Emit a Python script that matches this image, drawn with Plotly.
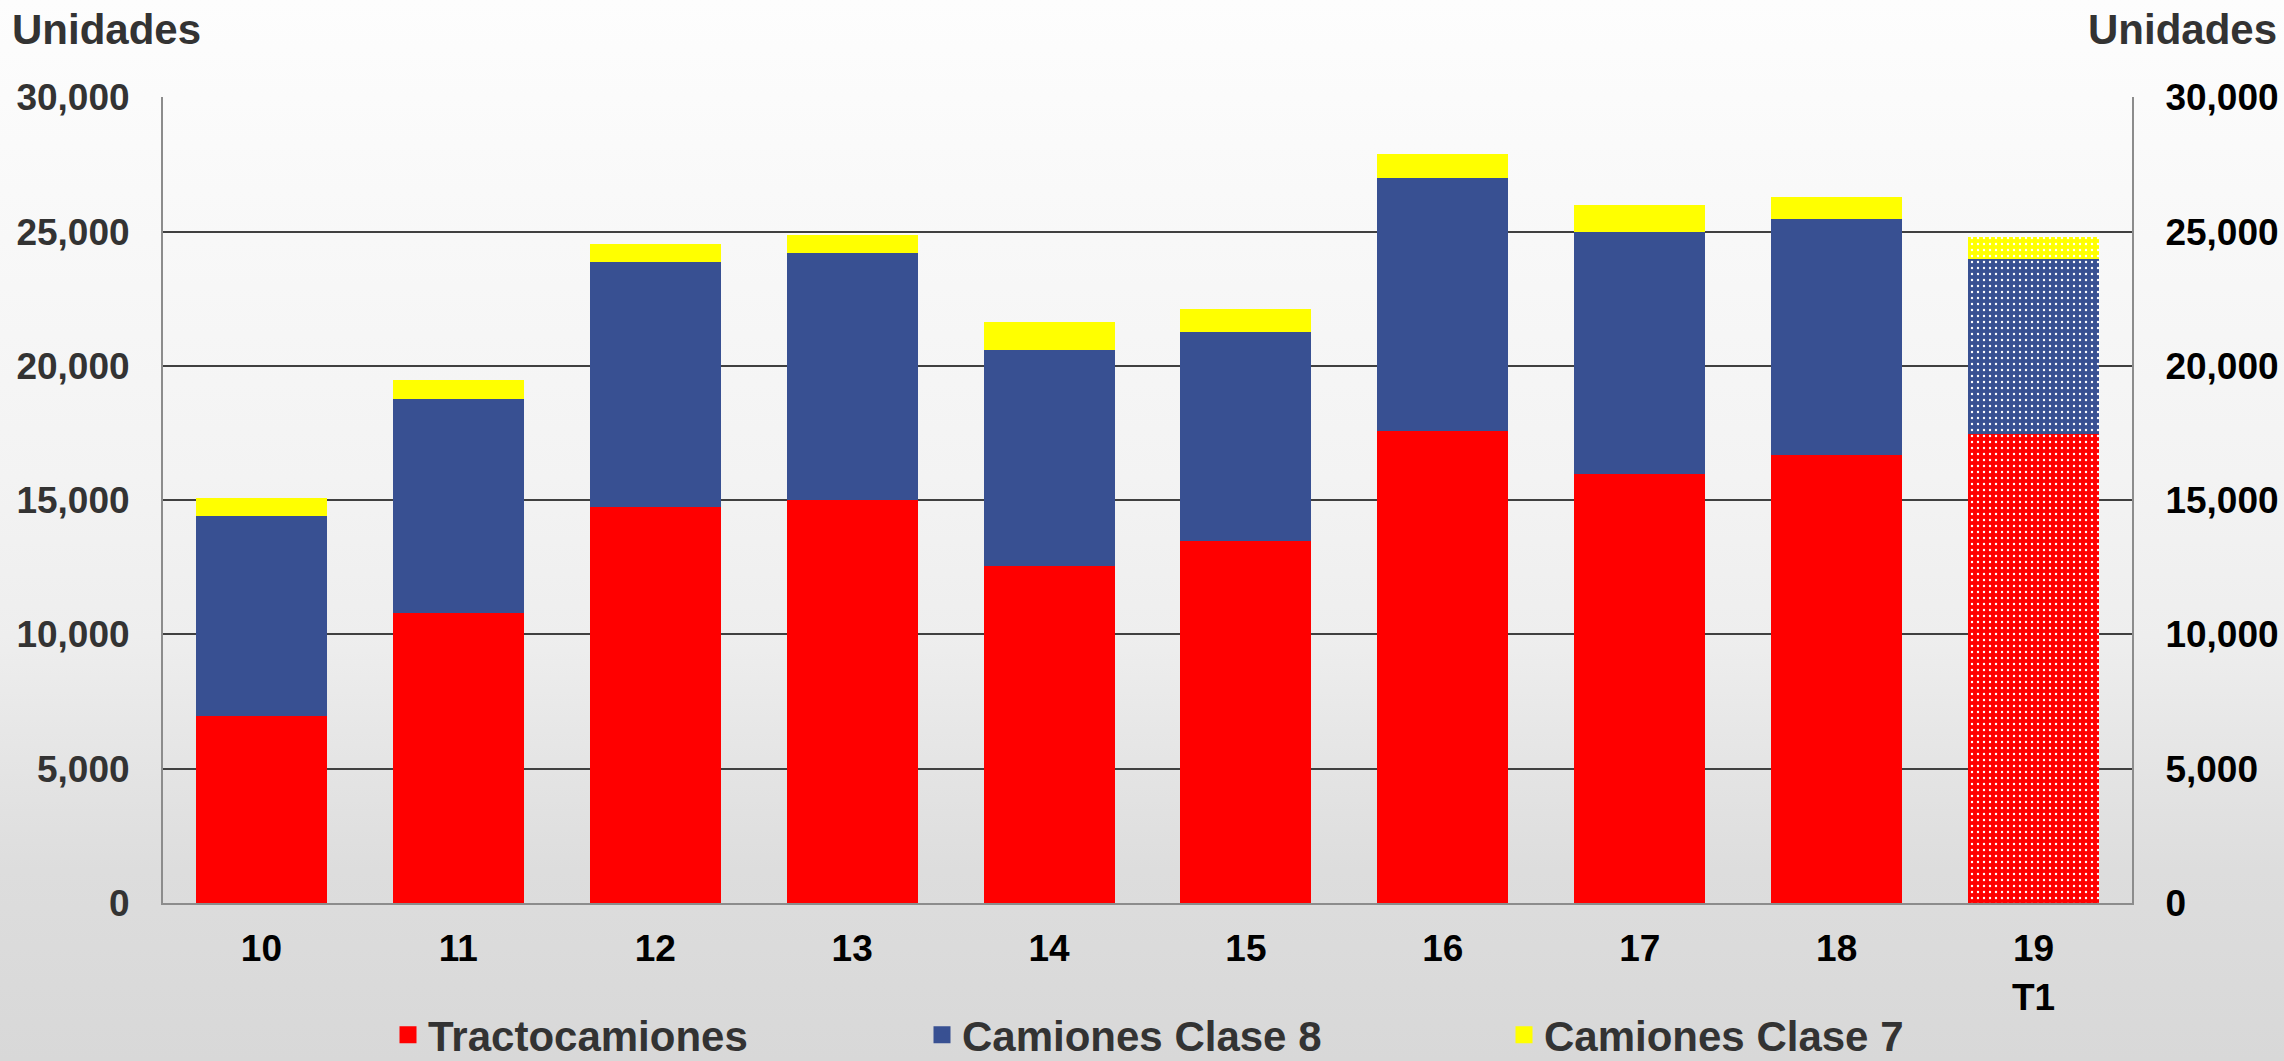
import base64
import plotly.graph_objects as go

# ---- data ----
categories = ["10", "11", "12", "13", "14", "15", "16", "17", "18", "19<br>T1"]
tractocamiones = [6970, 10790, 14730, 15000, 12540, 13470, 17570, 15980, 16675, 17470]
camiones_clase8 = [7445, 7965, 9128, 9193, 8040, 7780, 9415, 9000, 8783, 6500]
camiones_clase7 = [684, 707, 670, 670, 1040, 855, 893, 1005, 820, 820]
y_ticks = [0, 5000, 10000, 15000, 20000, 25000, 30000]

series_names = ["Tractocamiones", "Camiones Clase 8", "Camiones Clase 7"]
series_colors = ["#FF0000", "#385092", "#FFFF00"]
series_values = [tractocamiones, camiones_clase8, camiones_clase7]
series_legends = ["legend", "legend", "legend2"]

FONT = "Liberation Sans, Arial, sans-serif"

fig = go.Figure()
pattern_shapes = [""] * (len(categories) - 1) + ["."]
for name, color, vals in zip(series_names, series_colors, series_values):
    fig.add_trace(go.Bar(
        x=categories, y=vals, name=name, legendgroup=name, showlegend=False,
        marker=dict(
            color=color,
            line=dict(width=0),
            pattern=dict(shape=pattern_shapes, fgcolor="#FFFFFF", bgcolor=color,
                         size=6, solidity=0.12, fgopacity=1),
        ),
        hoverinfo="x+y+name",
    ))

# legend-only entries (bigger swatches); null values draw nothing
for name, color, lg in zip(series_names, series_colors, series_legends):
    fig.add_trace(go.Bar(
        x=[categories[0]], y=[None], name=name, legendgroup=name, yaxis="y2",
        legend=lg,
        marker=dict(color=color, line=dict(color=color, width=5)),
        hoverinfo="skip",
    ))

# background gradient as an inline SVG image
svg = (
    '<svg xmlns="http://www.w3.org/2000/svg" width="100" height="1061" preserveAspectRatio="none">'
    '<defs><linearGradient id="g" x1="0" y1="0" x2="0" y2="1">'
    '<stop offset="0" stop-color="#fdfdfd"/>'
    '<stop offset="0.45" stop-color="#f3f3f3"/>'
    '<stop offset="0.6" stop-color="#eeeeee"/>'
    '<stop offset="0.74" stop-color="#e3e3e3"/>'
    '<stop offset="0.82" stop-color="#dddddd"/>'
    '<stop offset="1" stop-color="#d8d8d8"/>'
    '</linearGradient></defs>'
    '<rect x="0" y="0" width="100" height="1061" fill="url(#g)"/></svg>'
)
svg_uri = "data:image/svg+xml;base64," + base64.b64encode(svg.encode()).decode()

W, H = 2284, 1061
ML, MR, MT, MB = 163, 152, 97, 158
pw, ph = W - ML - MR, H - MT - MB

def px_x(x):
    return (x - ML) / pw

def px_y(y):
    return (H - MB - y) / ph

y_range = [0, y_ticks[-1] * 1.0004]

legend_common = dict(
    orientation="h", yanchor="middle", y=px_y(1035),
    font=dict(family=FONT, size=42, color="#333333", weight="bold"),
    bgcolor="rgba(0,0,0,0)", traceorder="normal",
    itemclick=False, itemdoubleclick=False,
)

fig.update_layout(
    width=W, height=H,
    margin=dict(l=ML, r=MR, t=MT, b=MB, pad=0, autoexpand=False),
    paper_bgcolor="#e8e8e8",
    plot_bgcolor="rgba(0,0,0,0)",
    barmode="stack",
    bargap=0.335,
    font=dict(family=FONT, size=36, color="#000000", weight="bold"),
    images=[dict(source=svg_uri, xref="paper", yref="paper",
                 x=px_x(0), y=px_y(0), sizex=W / pw, sizey=H / ph,
                 xanchor="left", yanchor="top", sizing="stretch", layer="below")],
    xaxis=dict(
        type="category", automargin=False,
        showline=True, linecolor="#8c8c8c", linewidth=2,
        showgrid=False, ticks="",
        tickfont=dict(family=FONT, size=37, color="#000000", weight="bold"),
        ticklabelstandoff=12,
    ),
    yaxis=dict(
        range=y_range, tickvals=y_ticks, tickformat=",", automargin=False,
        showline=True, linecolor="#8c8c8c", linewidth=2,
        showgrid=True, gridcolor="#404040", gridwidth=2,
        zeroline=False, ticks="",
        tickfont=dict(family=FONT, size=37, color="#333333", weight="bold"),
        ticklabelstandoff=24,
    ),
    yaxis2=dict(
        overlaying="y", side="right", matches="y", automargin=False,
        range=y_range, tickvals=y_ticks, tickformat=",",
        showline=True, linecolor="#8c8c8c", linewidth=2,
        showgrid=False, zeroline=False, ticks="",
        tickfont=dict(family=FONT, size=37, color="#000000", weight="bold"),
        ticklabelstandoff=24,
    ),
    legend=dict(legend_common, x=px_x(388), xanchor="left",
                entrywidth=489, entrywidthmode="pixels"),
    legend2=dict(legend_common, x=px_x(1504), xanchor="left"),
    annotations=[
        dict(text="Unidades", xref="paper", yref="paper", x=px_x(10), y=px_y(29),
             xanchor="left", yanchor="middle", showarrow=False,
             font=dict(family=FONT, size=42, color="#333333", weight="bold")),
        dict(text="Unidades", xref="paper", yref="paper", x=px_x(2279), y=px_y(29),
             xanchor="right", yanchor="middle", showarrow=False,
             font=dict(family=FONT, size=42, color="#333333", weight="bold")),
    ],
    showlegend=True,
)

fig.write_html(
    "out.html",
    config={"displayModeBar": False},
    post_script="document.body.style.margin='0';document.body.style.overflow='hidden';",
)
